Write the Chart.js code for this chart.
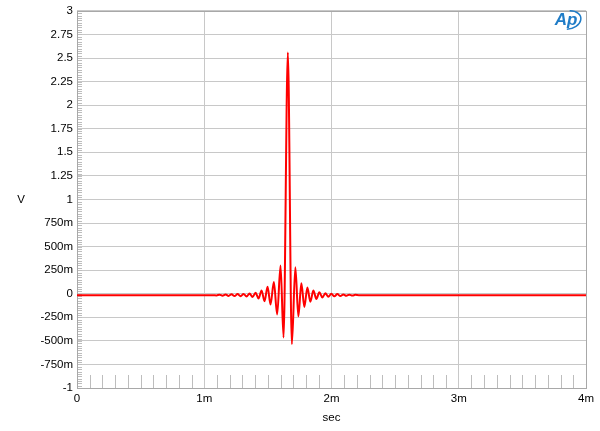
<!DOCTYPE html>
<html>
<head>
<meta charset="utf-8">
<script src="https://cdn.jsdelivr.net/npm/chart.js@4/dist/chart.umd.min.js"></script>
<style>
  html, body { margin: 0; padding: 0; background: #fff; }
  #wrap { width: 600px; height: 431px; }
</style>
</head>
<body>
<div id="wrap"><canvas id="impulseChart" width="600" height="431"></canvas></div>
<script>
// time in ms (extremes of the ringing)
const timeMs = [
  0, 1.0676,
  1.0967, 1.1202, 1.1438, 1.1674, 1.1910, 1.2145, 1.2381, 1.2617, 1.2853, 1.3089,
  1.3324, 1.3560, 1.3796, 1.4032, 1.4267, 1.4503, 1.4739, 1.4975, 1.5210, 1.5470,
  1.5729, 1.5996, 1.6232,
  1.657,
  1.6884, 1.7159, 1.7395, 1.7631, 1.7867, 1.8103, 1.8338, 1.8574, 1.8810, 1.9046,
  1.9281, 1.9517, 1.9753, 1.9989, 2.0224, 2.0460, 2.0696, 2.0932, 2.1167, 2.1403,
  2.1639, 2.1875, 2.215, 4.0
];

// volts
const volts = [
  -0.015, -0.015,
  -0.018, -0.010, -0.021, -0.008, -0.023, -0.006, -0.025, -0.004, -0.027, -0.003,
  -0.029, 0.002, -0.035, 0.010, -0.050, 0.035, -0.080, 0.075, -0.115, 0.125,
  -0.220, 0.300, -0.465,
  2.56,
  -0.535, 0.280, -0.240, 0.110, -0.140, 0.065, -0.085, 0.035, -0.055, 0.015,
  -0.040, 0.005, -0.032, 0.000, -0.028, -0.004, -0.025, -0.007, -0.022, -0.010,
  -0.019, -0.012, -0.015, -0.015
];

const xTicks = ['0', '1m', '2m', '3m', '4m'];

const labelFont = { family: 'Liberation Sans, Arial, sans-serif', size: 11.5 };

function voltLabel(v) {
  if (v === 0) return '0';
  if (Math.abs(v) >= 1) return String(v);
  return Math.round(v * 1000) + 'm';
}

const framePlugin = {
  id: 'frame',
  beforeDatasetsDraw(chart) {
    const ctx = chart.ctx;
    const { left, right, top, bottom } = chart.chartArea;
    const xs = chart.scales.x, ys = chart.scales.y;
    ctx.save();
    ctx.strokeStyle = '#bdbdbd';
    ctx.lineWidth = 1;
    ctx.beginPath();
    // small ticks inside the left edge
    for (let i = 0; i <= 160; i++) {
      const py = Math.round(ys.getPixelForValue(-1 + i * 0.025)) + 0.5;
      ctx.moveTo(left, py);
      ctx.lineTo(left + 5, py);
    }
    // small ticks inside the bottom edge
    for (let i = 1; i < 40; i++) {
      if (i % 10 === 0) continue;
      const px = Math.round(xs.getPixelForValue(i * 0.1)) + 0.5;
      ctx.moveTo(px, bottom);
      ctx.lineTo(px, bottom - 13);
    }
    ctx.stroke();
    ctx.strokeStyle = '#a8a8a8';
    ctx.strokeRect(Math.round(left) + 0.5, Math.round(top) + 0.5,
      Math.round(right - left), Math.round(bottom - top));
    ctx.restore();
  },
  afterDraw(chart) {
    const ctx = chart.ctx;
    const { top, bottom, right } = chart.chartArea;
    ctx.save();
    ctx.fillStyle = '#000';
    ctx.font = '11.5px "Liberation Sans", Arial, sans-serif';
    ctx.textAlign = 'center';
    ctx.textBaseline = 'middle';
    ctx.fillText('V', 21, (top + bottom) / 2);
    // AP logo
    ctx.fillStyle = '#1f7cc7';
    ctx.strokeStyle = '#1f7cc7';
    ctx.font = 'italic bold 17px "Liberation Sans", Arial, sans-serif';
    ctx.fillText('Ap', right - 20, 20);
    ctx.lineWidth = 1.5;
    ctx.beginPath();
    ctx.ellipse(right - 18, 20, 13, 9, -0.2, -1.3, 1.8);
    ctx.stroke();
    ctx.restore();
  }
};

const ctx = document.getElementById('impulseChart').getContext('2d');

new Chart(ctx, {
  type: 'line',
  data: {
    datasets: [{
      label: 'V',
      data: timeMs.map((t, i) => ({ x: t, y: volts[i] })),
      borderColor: '#ff0000',
      borderWidth: 2,
      pointRadius: 0,
      cubicInterpolationMode: 'monotone',
      fill: false
    }]
  },
  options: {
    responsive: false,
    animation: false,
    layout: { padding: { left: 0, right: 14, top: 9, bottom: 0 } },
    plugins: {
      legend: { display: false },
      tooltip: { enabled: false }
    },
    scales: {
      x: {
        type: 'linear',
        min: 0,
        max: 4,
        afterFit(scale) { scale.height = 43; },
        grid: { color: '#c8c8c8', drawTicks: false },
        border: { display: false },
        ticks: {
          stepSize: 1,
          padding: 4,
          color: '#000',
          font: labelFont,
          maxRotation: 0,
          callback: (v) => xTicks[Math.round(v)]
        },
        title: {
          display: true,
          text: 'sec',
          color: '#000',
          font: labelFont,
          padding: { top: 0, bottom: 6 }
        }
      },
      y: {
        min: -1,
        max: 3,
        afterFit(scale) { scale.width = 77; },
        grid: { color: '#c8c8c8', drawTicks: false },
        border: { display: false },
        ticks: {
          stepSize: 0.25,
          padding: 4,
          color: '#000',
          font: labelFont,
          callback: voltLabel
        }
      }
    }
  },
  plugins: [framePlugin]
});
</script>
</body>
</html>
